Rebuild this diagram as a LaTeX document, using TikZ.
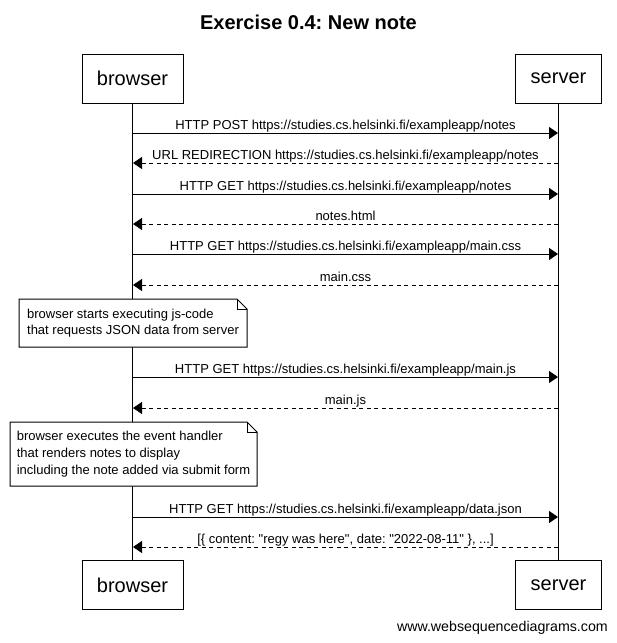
\documentclass[tikz,border=0pt]{standalone}
\usepackage{fontspec}
\setmainfont{Liberation Sans}
\usepackage{tikz}
\usetikzlibrary{calc,arrows.meta}
\frenchspacing
\tikzset{
  actor/.style={draw, line width=1pt, minimum height=49pt, inner sep=0pt, font=\fontsize{20}{24}\selectfont},
  life/.style={draw, line width=1pt},
  req/.style={draw, line width=1pt, -{Triangle[length=9pt,width=12pt]}},
  resp/.style={req, dash pattern=on 4pt off 3.5pt},
  lab/.style={font=\fontsize{13}{16}\selectfont, inner sep=0pt, text depth=0pt, above=3pt},
  notebox/.style={draw, fill=white, line width=1pt, line join=miter},
  notetxt/.style={font=\fontsize{13}{16.7}\selectfont, align=left, inner sep=0pt}
}
\begin{document}
\begin{tikzpicture}[x=1pt,y=-1pt]
  \useasboundingbox (0,0) rectangle (617,643);
  \node[font=\bfseries\fontsize{20}{24}\selectfont] (title) at (308.5,22.5) {Exercise 0.4: New note};
  % participants
  \node[actor, minimum width=101pt] (bt) at (132.5,78.5) {browser};
  \node[actor, minimum width=86pt] (st) at (558.5,78.5) {server};
  \node[actor, minimum width=101pt] (bb) at (132.5,585) {browser};
  \node[actor, minimum width=86pt] (sb) at (558.5,585) {server};
  \draw[life] (bt) -- (bb);
  \draw[life] (st) -- (sb);
  \foreach \n/\yy in {1/133,2/163,3/194,4/224,5/254,6/285,7/377,8/408,9/517,10/547}{
    \coordinate (b\n) at (133,\yy);
    \coordinate (s\n) at (558,\yy);
  }
  % messages
  \draw[req] (b1) -- (s1) node[lab, midway] {HTTP POST https://studies.cs.helsinki.fi/exampleapp/notes};
  \draw[resp] (s2) -- (b2) node[lab, midway] {URL REDIRECTION https://studies.cs.helsinki.fi/exampleapp/notes};
  \draw[req] (b3) -- (s3) node[lab, midway] {HTTP GET https://studies.cs.helsinki.fi/exampleapp/notes};
  \draw[resp] (s4) -- (b4) node[lab, midway] {notes.html};
  \draw[req] (b5) -- (s5) node[lab, midway] {HTTP GET https://studies.cs.helsinki.fi/exampleapp/main.css};
  \draw[resp] (s6) -- (b6) node[lab, midway] {main.css};
  % note 1
  \draw[notebox] (19,299) -- (237,299) -- (247,309) -- (247,347) -- (19,347) -- cycle;
  \draw[notebox, fill=none] (237,299) -- (237,309) -- (247,309);
  \node[notetxt] (n1) at (133,323) {browser starts executing js-code\\that requests JSON data from server};
  \draw[req] (b7) -- (s7) node[lab, midway] {HTTP GET https://studies.cs.helsinki.fi/exampleapp/main.js};
  \draw[resp] (s8) -- (b8) node[lab, midway] {main.js};
  % note 2
  \draw[notebox] (10,422) -- (247,422) -- (257,432) -- (257,486) -- (10,486) -- cycle;
  \draw[notebox, fill=none] (247,422) -- (247,432) -- (257,432);
  \node[notetxt] (n2) at (133.5,454) {browser executes the event handler\\that renders notes to display\\including the note added via submit form};
  \draw[req] (b9) -- (s9) node[lab, midway] {HTTP GET https://studies.cs.helsinki.fi/exampleapp/data.json};
  \draw[resp] (s10) -- (b10) node[lab, midway] {[\{ content: \textquotedbl regy was here\textquotedbl, date: \textquotedbl 2022-08-11\textquotedbl\ \}, ...]};
  \node[font=\fontsize{14.2}{17}\selectfont, inner sep=0pt, anchor=east] (wsd) at (608,628) {www.websequencediagrams.com};
\end{tikzpicture}
\end{document}
